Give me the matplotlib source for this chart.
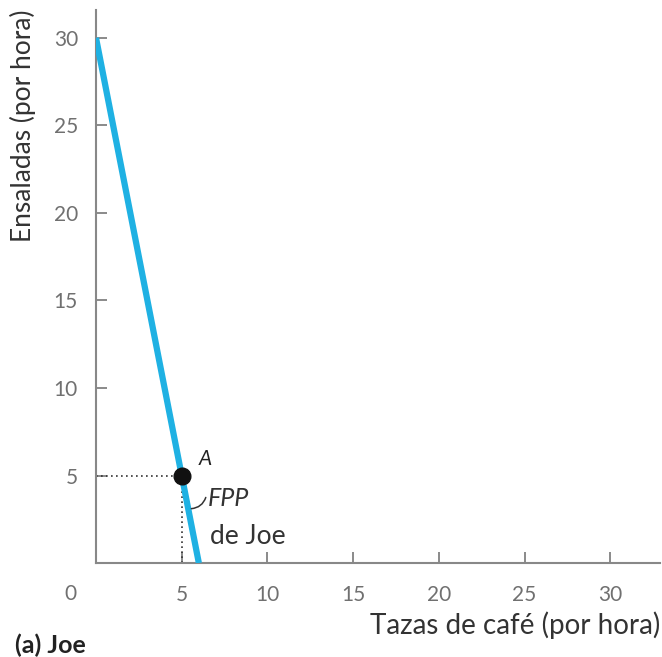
import matplotlib.pyplot as plt

# FPP de Joe: ensaladas vs tazas de café (por hora)
ppf_coffee = [0, 6]
ppf_salads = [30, 0]
point_a = (5, 5)
x_ticks = [5, 10, 15, 20, 25, 30]
y_ticks = [5, 10, 15, 20, 25, 30]

plt.rcParams['font.family'] = ['Lato', 'DejaVu Sans']

fig = plt.figure(figsize=(6.62, 6.57), dpi=100)
ax = fig.add_axes([0.145, 0.143, 0.852, 0.842])

ax.plot(ppf_coffee, ppf_salads, color='#1fb1e3', linewidth=4.5, solid_capstyle='butt', zorder=3)

# dotted guides to point A
ax.plot([0, point_a[0]], [point_a[1], point_a[1]], color='#333333', linestyle=(0, (1, 2)), linewidth=1.2)
ax.plot([point_a[0], point_a[0]], [0, point_a[1]], color='#333333', linestyle=(0, (1, 2)), linewidth=1.2)
ax.plot(*point_a, 'o', color='#111111', markersize=12, zorder=4)

ax.text(6.0, 5.6, 'A', fontsize=15, style='italic', color='#222222')
ax.text(6.55, 3.7, 'FPP', fontsize=18, style='italic', color='#333333', va='center')
ax.text(6.65, 1.5, 'de Joe', fontsize=19, color='#333333', va='center')
ax.annotate('', xy=(5.4, 3.1), xytext=(6.45, 3.9),
            arrowprops=dict(arrowstyle='-', color='#333333', lw=1.1,
                            connectionstyle='arc3,rad=-0.4'))

ax.set_xlim(0, 32.9)
ax.set_ylim(0, 31.6)
ax.set_xticks(x_ticks)
ax.set_yticks(y_ticks)
ax.tick_params(direction='in', length=8, width=1.2, color='#777777',
               labelcolor='#707070', labelsize=15, pad=16)
ax.tick_params(axis='y', pad=13)
for side in ['top', 'right']:
    ax.spines[side].set_visible(False)
for side in ['left', 'bottom']:
    ax.spines[side].set_color('#888888')
    ax.spines[side].set_linewidth(1.5)

ax.text(-0.045, -0.056, '0', transform=ax.transAxes, fontsize=15, color='#707070',
        ha='center', va='center')

fig.text(0.035, 0.985, 'Ensaladas (por hora)', rotation=90, fontsize=19,
         color='#333333', ha='center', va='top')
fig.text(0.997, 0.048, 'Tazas de café (por hora)', fontsize=20, color='#333333',
         ha='right', va='center')
fig.text(0.022, 0.018, '(a) Joe', fontsize=18, fontweight='bold', color='#222222',
         ha='left', va='center')

fig.savefig('out.png', dpi=100)
